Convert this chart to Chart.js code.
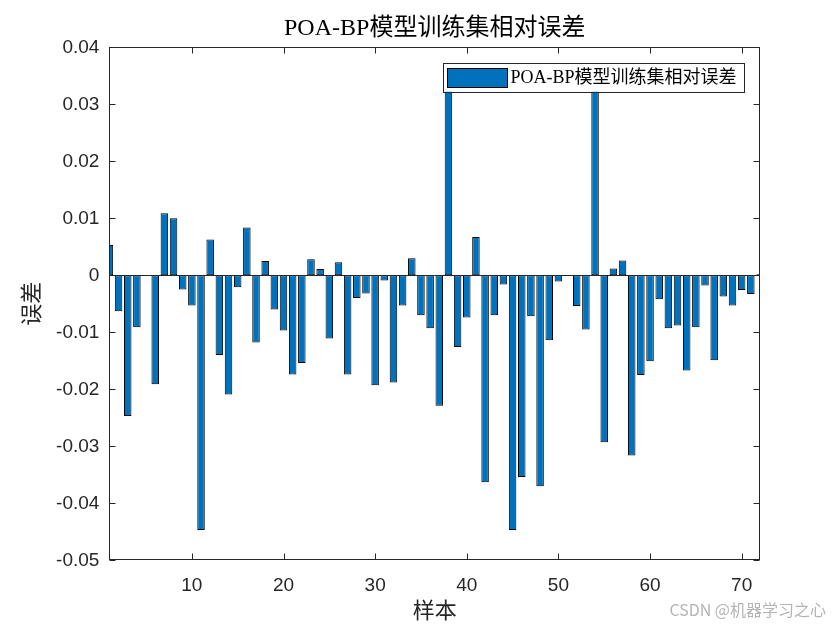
<!DOCTYPE html>
<html>
<head>
<meta charset="utf-8">
<script src="https://cdn.jsdelivr.net/npm/chart.js@4.4.1/dist/chart.umd.min.js"></script>
<style>
html,body{margin:0;padding:0;background:#fff;}
canvas{display:block;}
</style>
</head>
<body>
<canvas id="c" width="840" height="630"></canvas>
<script>
const chartTitle = 'POA-BP模型训练集相对误差';
const legendLabel = 'POA-BP模型训练集相对误差';
const xAxisTitle = '样本';
const yAxisTitle = '误差';
const watermark = 'CSDN @机器学习之心';

const samples = [1,2,3,4,5,6,7,8,9,10,11,12,13,14,15,16,17,18,19,20,
  21,22,23,24,25,26,27,28,29,30,31,32,33,34,35,36,37,38,39,40,
  41,42,43,44,45,46,47,48,49,50,51,52,53,54,55,56,57,58,59,60,
  61,62,63,64,65,66,67,68,69,70,71,72];

const errors = [
  0.0053, -0.0063, -0.0247, -0.0091, 0, -0.0191, 0.0109, 0.0100, -0.0025, -0.0053,
  -0.0447, 0.0063, -0.0140, -0.0209, -0.0021, 0.0084, -0.0118, 0.0025, -0.0060, -0.0097,
  -0.0174, -0.0154, 0.0028, 0.0011, -0.0111, 0.0023, -0.0174, -0.0040, -0.0032, -0.0193,
  -0.0009, -0.0188, -0.0053, 0.0030, -0.0070, -0.0093, -0.0229, 0.0360, -0.0126, -0.0074,
  0.0067, -0.0363, -0.0070, -0.0016, -0.0447, -0.0354, -0.0072, -0.0370, -0.0114, -0.0011,
  0, -0.0054, -0.0095, 0.0350, -0.0293, 0.0012, 0.0026, -0.0316, -0.0175, -0.0151,
  -0.0042, -0.0093, -0.0088, -0.0167, -0.0091, -0.0018, -0.0149, -0.0037, -0.0053, -0.0026,
  -0.0033, 0.0002
];

const xTickValues = [10, 20, 30, 40, 50, 60, 70];
const yTickValues = [-0.05, -0.04, -0.03, -0.02, -0.01, 0, 0.01, 0.02, 0.03, 0.04];

const AXIS_COLOR = '#262626';
const BAR_COLOR = '#0072BD';
const SERIF = "'Liberation Serif', 'Times New Roman', 'Noto Sans CJK SC', serif";
const SANS = "'Liberation Sans', Arial, sans-serif";

const frame = {
  id: 'frame',
  afterDatasetsDraw(chart) {
    const {ctx, chartArea: a, scales: {y}} = chart;
    ctx.save();
    // baseline
    const y0 = Math.round(y.getPixelForValue(0)) + 0.5;
    ctx.strokeStyle = AXIS_COLOR;
    ctx.lineWidth = 1;
    ctx.beginPath();
    ctx.moveTo(a.left, y0);
    ctx.lineTo(a.right, y0);
    ctx.stroke();
    // legend
    ctx.font = '18px ' + SERIF;
    const tw = ctx.measureText(legendLabel).width;
    const right = a.right - 16.5;
    const boxW = 4.5 + 60 + 3 + tw + 7;
    const left = right - boxW;
    const top = a.top + 16;
    const h = 28.5;
    ctx.fillStyle = '#fff';
    ctx.fillRect(left, top, boxW, h);
    ctx.strokeStyle = '#262626';
    ctx.strokeRect(Math.round(left) + 0.5, Math.round(top) + 0.5, Math.round(boxW), Math.round(h));
    ctx.fillStyle = BAR_COLOR;
    ctx.fillRect(left + 4.5, top + 5, 60, 19);
    ctx.strokeStyle = '#000';
    ctx.strokeRect(Math.round(left + 4.5) + 0.5, Math.round(top + 5) + 0.5, 60, 19);
    ctx.fillStyle = '#000';
    ctx.textBaseline = 'middle';
    ctx.textAlign = 'left';
    ctx.fillText(legendLabel, left + 4.5 + 60 + 3, top + h / 2 + 1);
    ctx.restore();
  },
  afterDraw(chart) {
    const {ctx, chartArea: a, scales: {x, y}} = chart;
    ctx.save();
    ctx.strokeStyle = AXIS_COLOR;
    ctx.lineWidth = 1;
    const L = Math.round(a.left) + 0.5, R = Math.round(a.right) - 0.5;
    const T = Math.round(a.top) + 0.5, B = Math.round(a.bottom) - 0.5;
    ctx.strokeRect(L, T, R - L, B - T);
    ctx.beginPath();
    xTickValues.forEach(v => {
      const px = Math.round(x.getPixelForValue(v)) + 0.5;
      ctx.moveTo(px, B); ctx.lineTo(px, B - 6);
      ctx.moveTo(px, T); ctx.lineTo(px, T + 6);
    });
    yTickValues.forEach(v => {
      const py = Math.round(y.getPixelForValue(v)) + 0.5;
      ctx.moveTo(L, py); ctx.lineTo(L + 6, py);
      ctx.moveTo(R, py); ctx.lineTo(R - 6, py);
    });
    ctx.stroke();
    // title
    ctx.font = '24px ' + SERIF;
    ctx.fillStyle = '#000';
    ctx.textAlign = 'center';
    ctx.textBaseline = 'middle';
    ctx.fillText(chartTitle, (a.left + a.right) / 2, 28.5);
    // watermark
    ctx.font = '16px ' + "'Noto Sans CJK SC', 'Liberation Sans', sans-serif";
    ctx.fillStyle = '#b4b4b4';
    ctx.textAlign = 'right';
    ctx.fillText(watermark, 826, 610);
    ctx.restore();
  }
};

new Chart(document.getElementById('c').getContext('2d'), {
  type: 'bar',
  data: {
    datasets: [{
      label: legendLabel,
      data: samples.map((s, i) => ({x: s, y: errors[i]})),
      backgroundColor: BAR_COLOR,
      borderColor: '#000',
      borderWidth: 1,
      borderSkipped: false,
      barPercentage: 0.82,
      categoryPercentage: 1,
      clip: 0
    }]
  },
  options: {
    responsive: false,
    animation: false,
    devicePixelRatio: 1,
    layout: {padding: {left: 0, right: 80, top: 47.3, bottom: 0}},
    scales: {
      x: {
        type: 'linear',
        min: 1,
        max: 72,
        offset: false,
        grid: {display: false, offset: false},
        border: {display: false},
        afterBuildTicks(s) { s.ticks = xTickValues.map(v => ({value: v})); },
        afterFit(s) { s.height = 69.7; },
        ticks: {
          color: AXIS_COLOR,
          font: {family: SANS, size: 19},
          padding: 6,
          maxRotation: 0,
          autoSkip: false,
          callback: v => String(v)
        },
        title: {
          display: true,
          text: xAxisTitle,
          color: AXIS_COLOR,
          font: {family: SERIF, size: 22},
          padding: {top: 0, bottom: 5}
        }
      },
      y: {
        type: 'linear',
        min: -0.05,
        max: 0.04,
        grid: {display: false},
        border: {display: false},
        afterBuildTicks(s) { s.ticks = yTickValues.map(v => ({value: v})); },
        afterFit(s) { s.width = 109.4; },
        ticks: {
          color: AXIS_COLOR,
          font: {family: SANS, size: 19},
          padding: 2,
          autoSkip: false,
          callback: v => (Math.abs(v) < 1e-9 ? '0' : v.toFixed(2))
        },
        title: {
          display: true,
          text: yAxisTitle,
          color: AXIS_COLOR,
          font: {family: SERIF, size: 22},
          padding: {top: 20, bottom: 0}
        }
      }
    },
    plugins: {
      legend: {display: false},
      tooltip: {enabled: false},
      title: {display: false}
    }
  },
  plugins: [frame]
});
</script>
</body>
</html>
